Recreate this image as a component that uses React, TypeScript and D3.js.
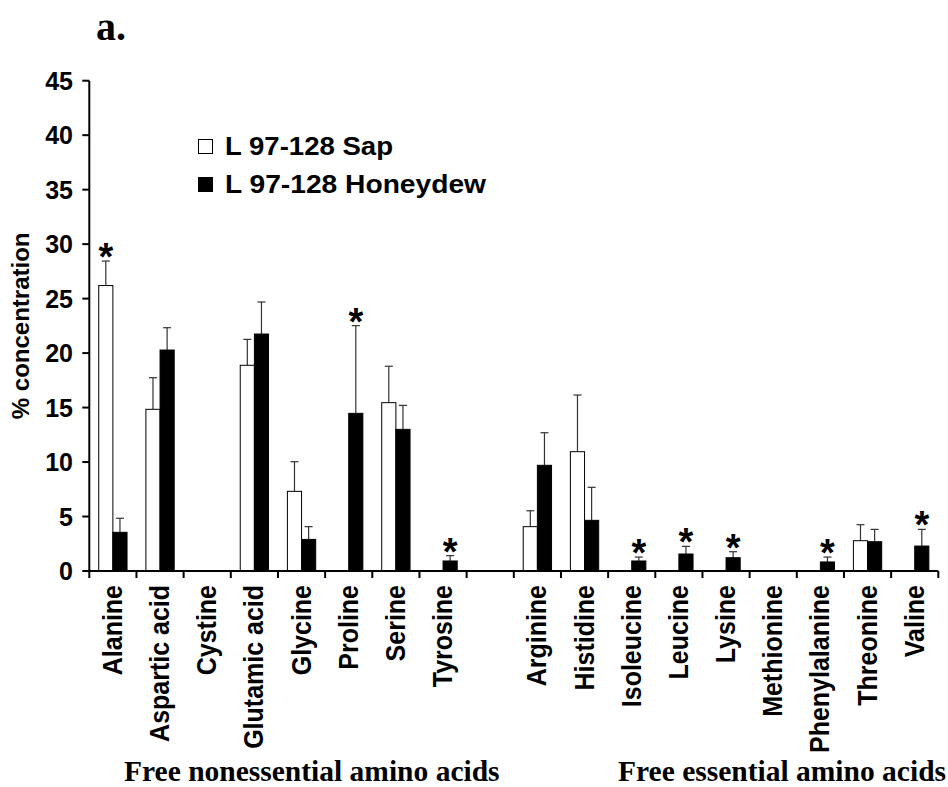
import React from "react";
import * as d3 from "d3";

const categories = ["Alanine","Aspartic acid","Cystine","Glutamic acid","Glycine","Proline","Serine","Tyrosine","","Arginine","Histidine","Isoleucine","Leucine","Lysine","Methionine","Phenylalanine","Threonine","Valine"];
const seriesNames = ["L 97-128 Sap","L 97-128 Honeydew"];
const sapMean: (number|null)[] = [26.2,14.84,null,18.88,7.31,null,15.45,null,null,4.07,10.95,null,null,null,null,null,2.78,null];
const sapErr: (number|null)[] = [2.25,2.9,null,2.38,2.72,null,3.34,null,null,1.46,5.2,null,null,null,null,null,1.47,null];
const honeyMean: (number|null)[] = [3.55,20.28,null,21.75,2.9,14.47,13.0,0.92,null,9.7,4.65,0.92,1.56,1.22,null,0.83,2.69,2.29];
const honeyErr: (number|null)[] = [1.29,2.05,null,2.94,1.17,8.05,2.2,0.49,null,2.99,3.03,0.36,0.7,0.55,null,0.45,1.13,1.53];
const sapSig = [true,false,false,false,false,false,false,false,false,false,false,false,false,false,false,false,false,false];
const honeySig = [false,false,false,false,false,true,false,true,false,false,false,true,true,true,false,true,false,true];
const yTicks = [0,5,10,15,20,25,30,35,40,45];
const groupTitles = ["Free nonessential amino acids","Free essential amino acids"];

const SANS = "'Liberation Sans', Arial, Helvetica, sans-serif";
const SERIF = "'Liberation Serif', 'Times New Roman', serif";

export default function App() {
  const W = 948, H = 787;
  const x0 = 89.3, x1 = 938.3, yTop = 80.7, yBot = 571;
  const x = d3.scaleBand<number>().domain(d3.range(categories.length)).range([x0, x1]).padding(0);
  const bw = x.bandwidth();
  const xs = d3.scaleBand<string>().domain(seriesNames).range([bw * 0.2, bw * 0.8]).padding(0);
  const y = d3.scaleLinear().domain([0, 45]).range([yBot, yTop]);
  const series = [
    { name: seriesNames[0], mean: sapMean, err: sapErr, sig: sapSig, fill: "#ffffff" },
    { name: seriesNames[1], mean: honeyMean, err: honeyErr, sig: honeySig, fill: "#000000" },
  ];
  const tickXs = d3.range(categories.length + 1).map((i) => x0 + i * bw);
  const legendLen = [168, 261];

  return (
    <svg width={W} height={H} style={{ position: "absolute", left: 0, top: 0, background: "#fff" }}>
      <rect x={0} y={0} width={W} height={H} fill="#fff" />
      <text x={96} y={40} fontFamily={SERIF} fontWeight="bold" fontSize={40}>a.</text>

      {/* bars */}
      {series.map((s) =>
        s.mean.map((m, i) => {
          if (m == null) return null;
          const bx = (x(i) as number) + (xs(s.name) as number);
          const w = xs.bandwidth();
          const e = s.err[i] ?? 0;
          const cx = bx + w / 2;
          const top = y(m + e);
          return (
            <g key={s.name + i}>
              <line x1={cx} x2={cx} y1={y(m)} y2={top} stroke="#333" strokeWidth={1.2} />
              <line x1={cx - 4} x2={cx + 4} y1={top} y2={top} stroke="#333" strokeWidth={1.2} />
              <rect x={bx} y={y(m)} width={w} height={yBot - y(m)} fill={s.fill} stroke="#000" strokeWidth={1} />
              {s.sig[i] && (
                <text x={cx} y={top + 9} textAnchor="middle" fontFamily={SANS} fontWeight="bold" fontSize={38}>*</text>
              )}
            </g>
          );
        })
      )}

      {/* y axis */}
      <line x1={x0} x2={x0} y1={yTop} y2={yBot} stroke="#000" strokeWidth={2} />
      {yTicks.map((t) => (
        <g key={t}>
          <line x1={x0 - 7} x2={x0} y1={y(t)} y2={y(t)} stroke="#000" strokeWidth={2} />
          <text x={73} y={y(t)} dy="0.36em" textAnchor="end" fontFamily={SANS} fontWeight="bold" fontSize={25}>{t}</text>
        </g>
      ))}
      <text transform={`translate(29,${(yTop + yBot) / 2}) rotate(-90)`} textAnchor="middle" fontFamily={SANS} fontWeight="bold" fontSize={24}>% concentration</text>

      {/* x axis */}
      <line x1={x0} x2={x1} y1={yBot} y2={yBot} stroke="#000" strokeWidth={2} />
      {tickXs.map((tx, i) => (
        <line key={i} x1={tx} x2={tx} y1={yBot} y2={yBot + 7} stroke="#000" strokeWidth={2} />
      ))}
      {categories.map((c, i) =>
        c ? (
          <text key={c} transform={`translate(${(x(i) as number) + bw / 2 + 9},585) rotate(-90) scale(1,1.08)`} textAnchor="end" fontFamily={SANS} fontWeight="bold" fontSize={25}>{c}</text>
        ) : null
      )}

      <text x={124} y={781} fontFamily={SERIF} fontWeight="bold" fontSize={29.5}>{groupTitles[0]}</text>
      <text x={618} y={781} fontFamily={SERIF} fontWeight="bold" fontSize={29.5}>{groupTitles[1]}</text>

      {/* legend */}
      {seriesNames.map((n, i) => (
        <g key={n}>
          <rect x={198.5} y={139.5 + i * 38} width={14} height={14} fill={series[i].fill} stroke="#000" strokeWidth={1} />
          <text x={225} y={155 + i * 38} fontFamily={SANS} fontWeight="bold" fontSize={25} textLength={legendLen[i]} lengthAdjust="spacingAndGlyphs">{n}</text>
        </g>
      ))}
    </svg>
  );
}
